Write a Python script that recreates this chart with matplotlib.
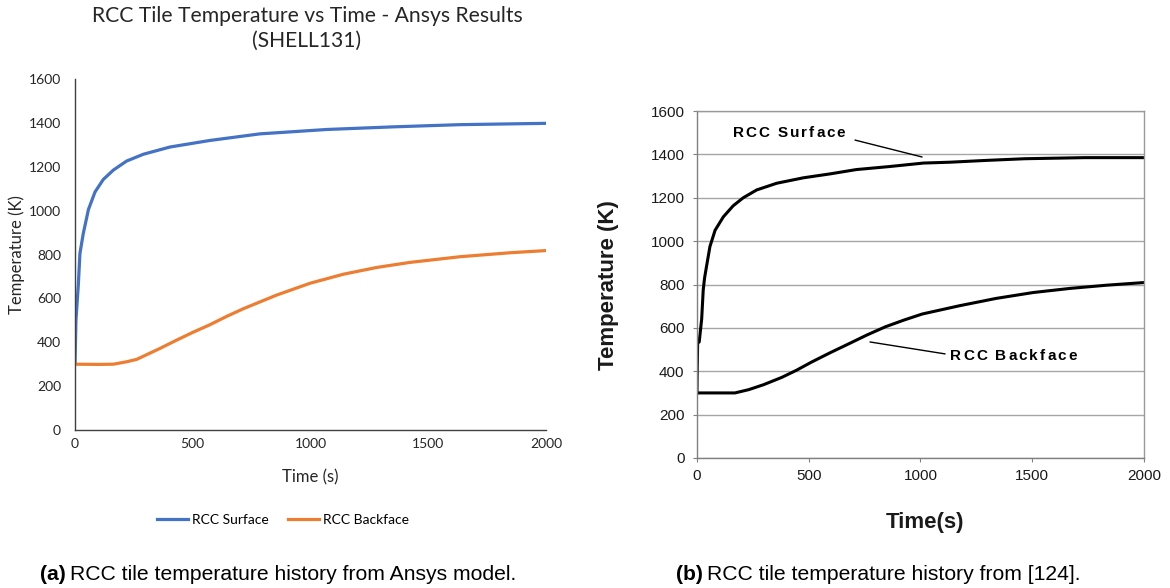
import matplotlib
matplotlib.use("Agg")
import matplotlib.pyplot as plt
from matplotlib.lines import Line2D
from matplotlib.font_manager import FontProperties

# ---- (a) Ansys SHELL131 results ----
t_ansys_surface = [0, 4, 14, 21, 35, 57, 85, 120, 163, 219, 290, 403, 573, 785, 1069, 1352, 1635, 2000]
T_ansys_surface = [300, 500, 660, 805, 895, 1005, 1085, 1142, 1185, 1226, 1257, 1290, 1320, 1350, 1370, 1382, 1392, 1398]

t_ansys_backface = [0, 100, 163, 219, 262, 361, 432, 502, 573, 644, 715, 856, 998, 1139, 1281, 1422, 1635, 1847, 2000]
T_ansys_backface = [300, 299, 300, 311, 322, 372, 410, 446, 480, 518, 553, 615, 669, 710, 741, 764, 790, 808, 818]

# ---- (b) reference history [124] ----
t_ref_surface = [0, 1, 3, 10, 21, 28, 34, 40, 58, 81, 118, 162, 207, 267, 357, 476, 595, 713, 862,
                 909, 1013, 1133, 1289, 1467, 1736, 2000]
T_ref_surface = [300, 400, 530, 535, 640, 775, 830, 867, 975, 1050, 1112, 1163, 1200, 1236, 1267, 1292, 1310, 1330, 1344,
                 1349, 1360, 1364, 1372, 1380, 1385, 1385]

t_ref_backface = [0, 170, 231, 298, 380, 446, 512, 595, 678, 760, 843, 926, 1008, 1174, 1339, 1504, 1669, 1835, 2000]
T_ref_backface = [300, 300, 315, 338, 372, 405, 442, 485, 526, 567, 605, 636, 664, 702, 736, 763, 782, 797, 809]

x_ticks = [0, 500, 1000, 1500, 2000]
y_ticks = [0, 200, 400, 600, 800, 1000, 1200, 1400, 1600]

series_names = ["RCC Surface", "RCC Backface"]
excel_colors = ["#4472C4", "#ED7D31"]

DPI = 100
fig = plt.figure(figsize=(11.7, 5.88), dpi=DPI)
fig.patch.set_facecolor("white")

# ------------------------------------------------------------------ left panel
office = "Lato"
txt_dark = "#262626"
axA = fig.add_axes([0.0641, 0.2687, 0.4026, 0.5969])
axA.plot(t_ansys_surface, T_ansys_surface, color=excel_colors[0], lw=2.3, solid_capstyle="round")
axA.plot(t_ansys_backface, T_ansys_backface, color=excel_colors[1], lw=2.3, solid_capstyle="round")
axA.set_xlim(0, 2000)
axA.set_ylim(0, 1600)
axA.set_xticks(x_ticks)
axA.set_yticks(y_ticks)
for s in ("top", "right"):
    axA.spines[s].set_visible(False)
for s in ("left", "bottom"):
    axA.spines[s].set_color("#404040")
    axA.spines[s].set_linewidth(1.0)
axA.tick_params(axis="both", length=0, labelsize=10, colors=txt_dark)
axA.tick_params(axis="y", pad=10)
axA.tick_params(axis="x", pad=6)
for lab in axA.get_xticklabels() + axA.get_yticklabels():
    lab.set_fontfamily(office)
axA.set_xlabel("Time (s)", fontsize=12, family=office, color=txt_dark)
axA.set_ylabel("Temperature (K)", fontsize=12, family=office, color=txt_dark)
axA.xaxis.set_label_coords(0.499, -0.111)
axA.yaxis.set_label_coords(-0.107, 0.4986)

fig.text(307 / 1170, 1 - 28 / 588, "RCC Tile Temperature vs Time - Ansys Results\n(SHELL131)",
         ha="center", va="center", fontsize=15.2, family=office, color=txt_dark, linespacing=1.3)

handles = [Line2D([], [], color=c, lw=2.3) for c in excel_colors]
fig.legend(handles, series_names, loc="center", bbox_to_anchor=(283 / 1170, 1 - 520 / 588),
           ncol=2, frameon=False, handlelength=2.2, handletextpad=0.3, columnspacing=1.4,
           prop={"family": office, "size": 10})

# ------------------------------------------------------------------ right panel
arial = "Liberation Sans"
axB = fig.add_axes([0.5957, 0.2211, 0.3821, 0.5901])
axB.set_axisbelow(True)
axB.grid(axis="y", color="#a6a6a6", lw=1.0)
axB.plot(t_ref_surface, T_ref_surface, color="black", lw=2.2)
axB.plot(t_ref_backface, T_ref_backface, color="black", lw=2.2)
axB.set_xlim(0, 2000)
axB.set_ylim(0, 1600)
axB.set_xticks(x_ticks)
axB.set_yticks(y_ticks)
for s in ("top", "right"):
    axB.spines[s].set_color("#999999")
    axB.spines[s].set_linewidth(1.0)
for s in ("left", "bottom"):
    axB.spines[s].set_color("#808080")
    axB.spines[s].set_linewidth(1.0)
axB.tick_params(axis="both", length=3, width=0.8, color="#808080", labelsize=11, labelcolor="#1a1a1a")
axB.tick_params(axis="y", pad=6)
axB.tick_params(axis="x", pad=5)
for lab in axB.get_xticklabels() + axB.get_yticklabels():
    lab.set_fontfamily(arial)
axB.set_xlabel("Time(s)", fontsize=16, fontweight="bold", family=arial, color="#1a1a1a")
axB.set_ylabel("Temperature (K)", fontsize=16, fontweight="bold", family=arial, color="#1a1a1a")
axB.xaxis.set_label_coords(0.51, -0.156)
axB.yaxis.set_label_coords(-0.174, 0.4986)

renderer = fig.canvas.get_renderer()


def text_width(s, fp):
    w, _, _ = renderer.get_text_width_height_descent(s, fp, ismath=False)
    return w


def spaced_label(ax, x, y, s, size, spacing_px):
    """Letter-spaced bold label, anchored at its left baseline."""
    fp = FontProperties(family=arial, weight="bold", size=size)
    ref = text_width("x", fp)
    for i, ch in enumerate(s):
        if ch == " ":
            continue
        off_px = (text_width(s[:i] + "x", fp) - ref) + i * spacing_px
        ax.annotate(ch, xy=(x, y), xycoords="data", xytext=(off_px * 72 / DPI, 0),
                    textcoords="offset points", ha="left", va="baseline",
                    fontproperties=fp, color="black", annotation_clip=False)


leader = dict(arrowstyle="-", color="black", lw=1.0, shrinkA=0, shrinkB=0)
spaced_label(axB, 161, 1478, series_names[0], 11, 1.9)
axB.annotate("", xy=(1007, 1388), xytext=(707, 1466), arrowprops=leader)
spaced_label(axB, 1132, 450, series_names[1], 11, 2.0)
axB.annotate("", xy=(774, 535), xytext=(1110, 480), arrowprops=leader)

# ------------------------------------------------------------------ captions
def caption(x, tag, body):
    t1 = fig.text(x, 1 - 580 / 588, tag, ha="left", va="baseline", fontsize=15.2,
                  fontweight="bold", family=arial, color="black")
    axA.annotate(body, xy=(1, 0), xycoords=t1, xytext=(3, 0), textcoords="offset points",
                 ha="left", va="bottom", fontsize=15.2, family=arial, color="black",
                 annotation_clip=False)

caption(40 / 1170, "(a)", "RCC tile temperature history from Ansys model.")
caption(676 / 1170, "(b)", "RCC tile temperature history from [124].")

fig.savefig("out.png", dpi=DPI, facecolor="white")
